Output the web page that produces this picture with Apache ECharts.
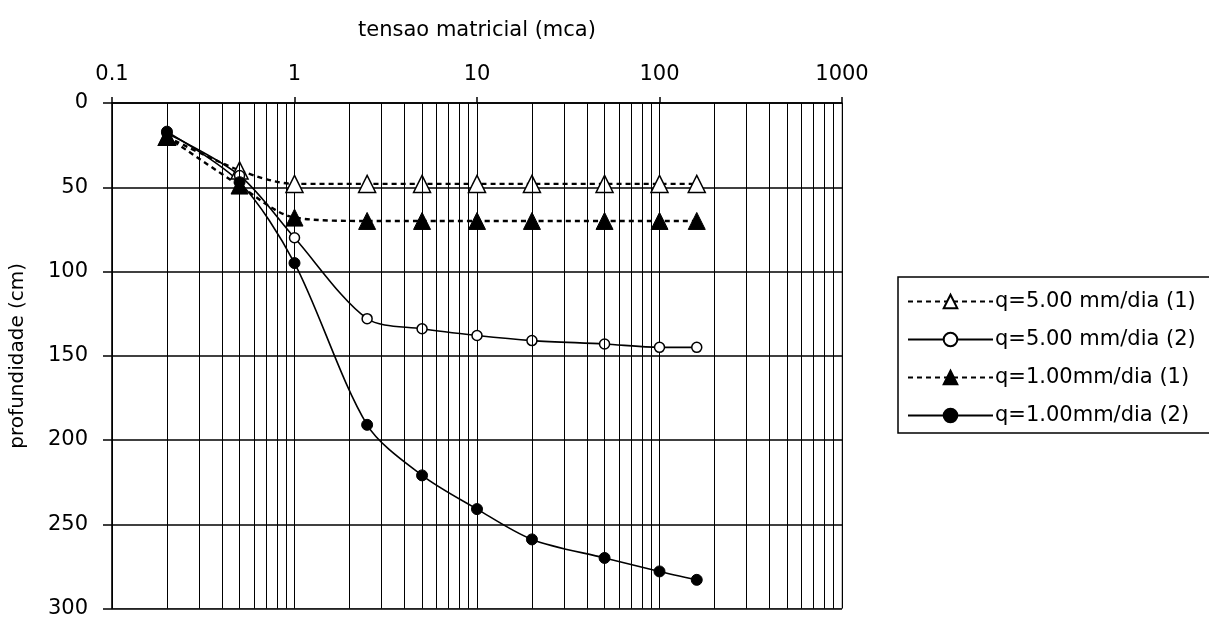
<!DOCTYPE html>
<html>
<head>
<meta charset="utf-8">
<script src="https://cdn.jsdelivr.net/npm/echarts@6/dist/echarts.min.js"></script>
<style>
  html, body { margin: 0; padding: 0; background: #fff; }
  #chart { width: 1209px; height: 619px; }
</style>
</head>
<body>
<div id="chart"></div>
<script>
// tensao matricial (mca) em cada ponto
const tensao = [0.2, 0.5, 1, 2.5, 5, 10, 20, 50, 100, 160];
// profundidade (cm)
const q5_1 = [20, 40, 48, 48, 48, 48, 48, 48, 48, 48];
const q5_2 = [18, 43, 80, 128, 134, 138, 141, 143, 145, 145];
const q1_1 = [20, 49, 68, 70, 70, 70, 70, 70, 70, 70];
const q1_2 = [17, 47, 95, 191, 221, 241, 259, 270, 278, 283];
const seriesNames = ['q=5.00 mm/dia (1)', 'q=5.00 mm/dia (2)', 'q=1.00mm/dia (1)', 'q=1.00mm/dia (2)'];
// linhas secundarias da escala log (2..9 de cada decada)
const minorTicks = [0.1, 1, 10, 100].flatMap(d => [2, 3, 4, 5, 6, 7, 8, 9].map(k => +(k * d).toFixed(1)));

const FONT = '"DejaVu Sans", Arial, sans-serif';
const pairs = ys => tensao.map((x, i) => [x, ys[i]]);

const chart = echarts.init(document.getElementById('chart'), null, {renderer: 'canvas'});

const dashed = {color: '#000', width: 2.4, type: [5, 4]};
const solid = {color: '#000', width: 1.6, type: 'solid'};

chart.setOption({
  animation: false,
  backgroundColor: '#fff',
  textStyle: {fontFamily: FONT},
  grid: {
    left: 112, top: 103, width: 730, height: 506,
    show: true, borderColor: '#888', borderWidth: 1, backgroundColor: '#fff'
  },
  // moldura da legenda, aberta a direita (sai da imagem no original)
  graphic: [{
    type: 'polyline',
    shape: {points: [[1320, 277], [898, 277], [898, 433], [1320, 433]]},
    style: {fill: 'none', stroke: '#000', lineWidth: 1.5},
    z: 0
  }],
  legend: {
    data: seriesNames,
    orient: 'vertical',
    left: 898,
    top: 277,
    padding: [14, 0, 10, 9],
    itemGap: 17,
    itemWidth: 85,
    itemHeight: 17,
    textStyle: {fontFamily: FONT, fontSize: 21, color: '#000', padding: [0, 0, 0, -3]}
  },
  xAxis: {
    type: 'log',
    logBase: 10,
    position: 'top',
    min: 0.1,
    max: 1000,
    name: 'tensao matricial (mca)',
    nameLocation: 'middle',
    nameGap: 62,
    nameTextStyle: {fontFamily: FONT, fontSize: 21, color: '#000'},
    axisLine: {show: true, lineStyle: {color: '#000', width: 1.5}},
    axisTick: {show: true, inside: false, length: 6, lineStyle: {color: '#000', width: 1.5}},
    axisLabel: {
      fontFamily: FONT, fontSize: 21, color: '#000', margin: 18,
      formatter: v => String(+v.toPrecision(3))
    },
    splitLine: {show: true, lineStyle: {color: '#000', width: 1}}
  },
  yAxis: {
    type: 'value',
    inverse: true,
    min: 0,
    max: 300,
    interval: 50,
    name: 'profundidade (cm)',
    nameLocation: 'middle',
    nameGap: 84,
    nameRotate: 90,
    nameTextStyle: {fontFamily: FONT, fontSize: 20, color: '#000'},
    axisLine: {show: true, lineStyle: {color: '#000', width: 1.5}},
    axisTick: {show: true, inside: false, length: 9, lineStyle: {color: '#000', width: 1.5}},
    axisLabel: {fontFamily: FONT, fontSize: 21, color: '#000', margin: 24},
    splitLine: {show: true, lineStyle: {color: '#000', width: 1.5}}
  },
  series: [
    {
      name: 'minor',
      type: 'line',
      data: [],
      z: 1,
      silent: true,
      markLine: {
        silent: true,
        symbol: 'none',
        label: {show: false},
        lineStyle: {color: '#000', width: 1, type: 'solid'},
        data: minorTicks.map(v => ({xAxis: v}))
      }
    },
    {
      name: seriesNames[0], type: 'line', z: 3, smooth: 0.3,
      data: pairs(q5_1),
      symbol: 'triangle', symbolSize: 17,
      lineStyle: dashed,
      itemStyle: {color: '#fff', borderColor: '#000', borderWidth: 1.5}
    },
    {
      name: seriesNames[1], type: 'line', z: 3, smooth: 0.3,
      data: pairs(q5_2),
      symbol: 'circle', symbolSize: 10,
      lineStyle: solid,
      itemStyle: {color: '#fff', borderColor: '#000', borderWidth: 1.5}
    },
    {
      name: seriesNames[2], type: 'line', z: 3, smooth: 0.3,
      data: pairs(q1_1),
      symbol: 'triangle', symbolSize: 17,
      lineStyle: dashed,
      itemStyle: {color: '#000', borderColor: '#000', borderWidth: 1}
    },
    {
      name: seriesNames[3], type: 'line', z: 3, smooth: 0.3,
      data: pairs(q1_2),
      symbol: 'circle', symbolSize: 11,
      lineStyle: solid,
      itemStyle: {color: '#000', borderColor: '#000', borderWidth: 1}
    }
  ]
});
</script>
</body>
</html>
